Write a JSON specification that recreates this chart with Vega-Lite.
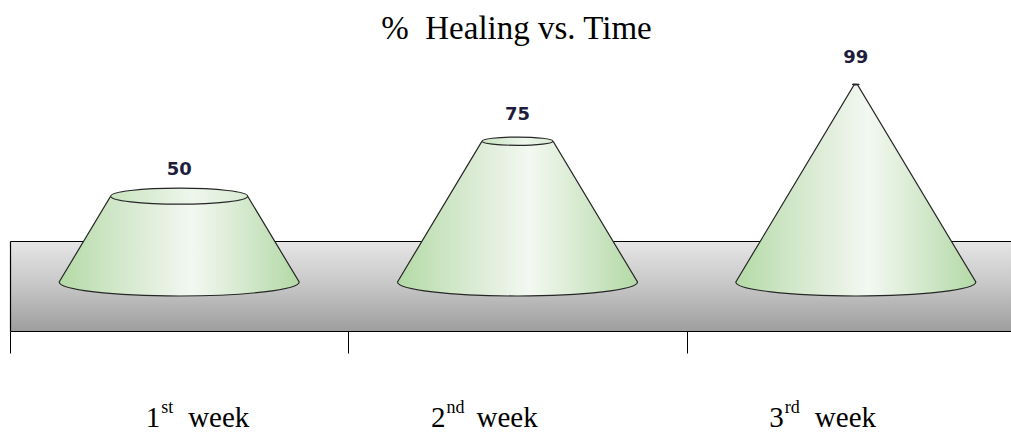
{
  "$schema": "https://vega.github.io/schema/vega-lite/v6.json",
  "autosize": {"type": "none"},
  "padding": {"left": 10, "top": 241, "right": 0, "bottom": 101},
  "width": 1001,
  "height": 90,
  "background": "white",
  "view": {
    "fill": {"gradient": "linear", "x1": 0, "y1": 0, "x2": 0, "y2": 1,
      "stops": [{"offset": 0, "color": "#e6e6e6"}, {"offset": 0.5, "color": "#c6c6c6"}, {"offset": 1, "color": "#9e9e9e"}]},
    "stroke": null
  },
  "title": {
    "text": "%\u00a0\u00a0Healing vs. Time",
    "font": "Liberation Serif",
    "fontSize": 33,
    "fontWeight": "normal",
    "color": "black",
    "anchor": "middle",
    "frame": "group",
    "baseline": "alphabetic",
    "offset": -23,
    "dx": 6
  },
  "data": {
    "values": [
      {"week": "1st week", "value": 50},
      {"week": "2nd week", "value": 75},
      {"week": "3rd week", "value": 99}
    ]
  },
  "layer": [
    {
      "mark": {
        "type": "point",
        "shape": "M -1 0 L 0 -1.6667 L 1 0 C 1 0.0644 0.5523 0.1167 0 0.1167 C -0.5523 0.1167 -1 0.0644 -1 0 Z",
        "size": 57600,
        "filled": true,
        "opacity": 1,
        "fill": {"gradient": "linear", "x1": 0, "y1": 0, "x2": 1, "y2": 0,
          "stops": [
            {"offset": 0, "color": "#b3daa6"},
            {"offset": 0.2, "color": "#cde5c4"},
            {"offset": 0.4, "color": "#e3efde"},
            {"offset": 0.55, "color": "#f3f8f1"},
            {"offset": 0.7, "color": "#dfeed9"},
            {"offset": 0.85, "color": "#c9e3c0"},
            {"offset": 1, "color": "#b3daa6"}
          ]},
        "stroke": "#262626",
        "strokeWidth": 1.2
      },
      "encoding": {
        "x": {
          "field": "week", "type": "nominal", "sort": null,
          "scale": {"type": "band", "domain": ["1st week", "2nd week", "3rd week"], "range": [0, 1015], "paddingInner": 0, "paddingOuter": 0},
          "axis": {
            "orient": "bottom", "domain": true, "domainColor": "black", "domainWidth": 1.2, "grid": false, "title": null,
            "ticks": true, "tickBand": "extent", "tickSize": 22, "tickColor": "black", "tickWidth": 1,
            "labelExpr": "substring(datum.label,0,1)",
            "labelFont": "Liberation Serif", "labelFontSize": 29, "labelColor": "black",
            "labelAlign": "left", "labelBaseline": "alphabetic", "labelAngle": 0,
            "labelPadding": 73, "labelOverlap": false, "labelFlush": false, "labelBound": false,
            "labelOffset": {"condition": {"test": "datum.value === '1st week'", "value": -34}, "value": -87}
          }
        },
        "y": {
          "datum": 0, "type": "quantitative",
          "scale": {"type": "pow", "exponent": 1.22, "domain": [0, 100], "range": [41, -159], "nice": false, "zero": false},
          "axis": null
        }
      }
    },
    {
      "mark": {"type": "bar", "fill": "white", "width": 250, "strokeWidth": 0},
      "encoding": {
        "x": {
          "field": "week", "type": "nominal", "sort": null,
          "scale": {"type": "band", "domain": ["1st week", "2nd week", "3rd week"], "range": [0, 1015], "paddingInner": 0, "paddingOuter": 0},
          "axis": {
            "orient": "bottom", "domain": false, "grid": false, "title": null,
            "ticks": false, "tickSize": 0,
            "labelExpr": "substring(datum.label,1,3)",
            "labelFont": "Liberation Serif", "labelFontSize": 18, "labelColor": "black",
            "labelAlign": "left", "labelBaseline": "alphabetic", "labelAngle": 0,
            "labelPadding": 81, "labelOverlap": false, "labelFlush": false, "labelBound": false,
            "labelOffset": {"condition": {"test": "datum.value === '1st week'", "value": -18}, "value": -71}
          }
        },
        "y": {
          "field": "value", "type": "quantitative",
          "scale": {"type": "pow", "exponent": 1.22, "domain": [0, 100], "range": [41, -159], "nice": false, "zero": false},
          "axis": null
        },
        "y2": {"datum": 103}
      }
    },
    {
      "mark": {
        "type": "point",
        "shape": "M -1 0 C -1 -0.0644 -0.5523 -0.1167 0 -0.1167 C 0.5523 -0.1167 1 -0.0644 1 0 C 1 0.0644 0.5523 0.1167 0 0.1167 C -0.5523 0.1167 -1 0.0644 -1 0 Z",
        "filled": true,
        "opacity": 1,
        "fill": {"gradient": "linear", "x1": 0, "y1": 0, "x2": 1, "y2": 0,
          "stops": [
            {"offset": 0, "color": "#c9e4c0"},
            {"offset": 0.6, "color": "#eef6ec"},
            {"offset": 1, "color": "#d8ead2"}
          ]},
        "stroke": "#262626",
        "strokeWidth": 1.2
      },
      "encoding": {
        "x": {"field": "week", "type": "nominal", "sort": null,
          "scale": {"type": "band", "domain": ["1st week", "2nd week", "3rd week"], "range": [0, 1015], "paddingInner": 0, "paddingOuter": 0},
          "axis": {
            "orient": "bottom", "domain": false, "grid": false, "title": null,
            "ticks": false, "tickSize": 0,
            "labelExpr": "indexof(['1st week','2nd week','3rd week'], datum.value) >= 0 ? 'week' : ''",
            "labelFont": "Liberation Serif", "labelFontSize": 29, "labelColor": "black",
            "labelAlign": "left", "labelBaseline": "alphabetic", "labelAngle": 0,
            "labelPadding": 95, "labelOverlap": false, "labelFlush": false, "labelBound": false,
            "labelOffset": {"condition": {"test": "datum.value === '1st week'", "value": 9}, "value": -41}
          }},
        "y": {
          "field": "value", "type": "quantitative",
          "scale": {"type": "pow", "exponent": 1.22, "domain": [0, 100], "range": [41, -159], "nice": false, "zero": false},
          "axis": null
        },
        "size": {
          "field": "value", "type": "quantitative", "legend": null,
          "scale": {"domain": [0, 25, 50, 75, 90, 95, 100], "range": [57600, 38324, 18760, 5046, 837, 212, 0]}
        }
      }
    },
    {
      "mark": {"type": "text", "dy": -21, "baseline": "alphabetic", "align": "center", "font": "DejaVu Sans", "fontWeight": "bold", "fontSize": 18, "color": "#1e1e3c"},
      "encoding": {
        "x": {"field": "week", "type": "nominal", "sort": null,
          "scale": {"type": "band", "domain": ["1st week", "2nd week", "3rd week"], "range": [0, 1015], "paddingInner": 0, "paddingOuter": 0},
          "axis": {
            "orient": "top", "domain": true, "domainColor": "black", "domainWidth": 1.2, "grid": false, "title": null,
            "labels": false,
            "ticks": true, "tickBand": "extent", "tickSize": -90, "tickColor": "black", "tickWidth": 1.2,
            "tickOpacity": {"condition": {"test": "indexof(['1st week','2nd week','3rd week'], datum.value) < 0", "value": 1}, "value": 0}
          }},
        "y": {
          "field": "value", "type": "quantitative",
          "scale": {"type": "pow", "exponent": 1.22, "domain": [0, 100], "range": [41, -159], "nice": false, "zero": false},
          "axis": null
        },
        "text": {"field": "value", "type": "quantitative"}
      }
    }
  ],
  "resolve": {"axis": {"x": "independent"}}
}
